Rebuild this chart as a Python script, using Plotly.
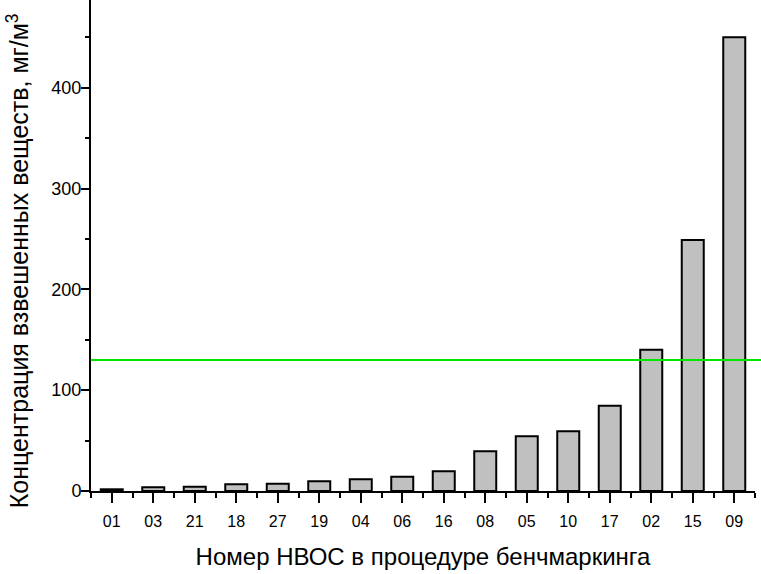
import plotly.graph_objects as go

labels = ["01", "03", "21", "18", "27", "19", "04", "06", "16", "08", "05", "10", "17", "02", "15", "09"]
values = [1.7, 3.7, 4.3, 6.6, 7.3, 9.6, 11.6, 14.2, 19.6, 39.4, 54.3, 59.3, 84.5, 140, 249, 450]
limit_value = 130
y_title = "Концентрация взвешенных веществ, мг/м<sup>3</sup>"
x_title = "Номер НВОС в процедуре бенчмаркинга"

positions = list(range(len(labels)))

fig = go.Figure()
fig.add_trace(go.Bar(
    x=positions, y=values, width=0.53,
    marker=dict(color="#c0c0c0", line=dict(color="black", width=2)),
))

fig.add_shape(type="line", xref="paper", yref="y", x0=0, x1=1.01,
              y0=limit_value, y1=limit_value, line=dict(color="#00e600", width=2))

fig.add_annotation(text=y_title, xref="paper", yref="paper",
                   x=-0.11, y=0.47, xanchor="center", yanchor="middle",
                   textangle=-90, showarrow=False, font=dict(size=25))

fig.update_layout(
    width=761, height=574,
    margin=dict(l=91, r=6, t=0, b=83, autoexpand=False),
    plot_bgcolor="white", paper_bgcolor="white",
    showlegend=False,
    font=dict(family="Liberation Sans, Arial, sans-serif", color="black"),
    xaxis=dict(
        automargin=False,
        range=[-0.5, 15.5], tickvals=positions, ticktext=labels,
        showline=True, linecolor="black", linewidth=2,
        ticks="outside", ticklen=10, tickwidth=2, tickcolor="black",
        minor=dict(ticks="outside", ticklen=5, tickwidth=2, tickcolor="black",
                   tick0=0.5, dtick=1),
        showgrid=False, zeroline=False,
        tickfont=dict(size=16), ticklabelstandoff=5,
        title=dict(text=x_title, font=dict(size=24), standoff=19),
    ),
    yaxis=dict(
        automargin=False,
        range=[0, 487], tickvals=[0, 100, 200, 300, 400],
        showline=True, linecolor="black", linewidth=2,
        ticks="outside", ticklen=8, tickwidth=2, tickcolor="black",
        minor=dict(ticks="outside", ticklen=4, tickwidth=2, tickcolor="black",
                   tickvals=[50, 150, 250, 350, 450]),
        showgrid=False, zeroline=False,
        tickfont=dict(size=18), ticklabelstandoff=-4,
    ),
)

fig.write_html("out.html", config={"displayModeBar": False},
               post_script="document.body.style.margin='0';document.body.style.overflow='hidden';")
